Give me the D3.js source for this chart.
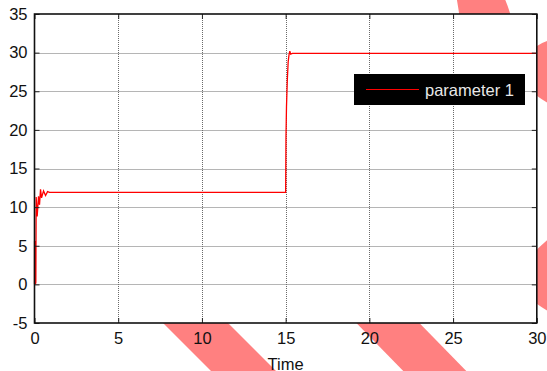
<!DOCTYPE html>
<html>
<head>
<meta charset="utf-8">
<script src="https://cdn.jsdelivr.net/npm/d3@7"></script>
<style>
  html, body { margin: 0; padding: 0; background: #fff; }
  svg { display: block; }
  text { font-family: Arial, "Liberation Sans", sans-serif; }
</style>
</head>
<body>
<svg id="chart" width="547" height="371"></svg>
<script>
// ---- data ----
const timeValues = [0, 0.005, 0.01, 0.015, 0.02, 0.025, 0.03, 0.035, 0.04, 0.045, 0.05, 0.055, 0.06, 0.065, 0.07, 0.075, 0.08,
                    0.1, 0.16, 0.24, 0.3, 0.36, 0.42, 0.54, 0.66, 0.78, 0.9,
                    15.0, 15.02, 15.05, 15.1, 15.15, 15.2, 15.25, 15.3, 15.4, 30];
const parameter1 = [0, 5.6, 0.1, 5.3, 0, 5.5, 0.2, 5.4, 0, 5.6, 0.3, 5.2, 0, 5.5, 0.1, 5.3, 0.2,
                    11.3, 8.8, 11.4, 10.3, 12.3, 11.2, 12.1, 11.5, 12.0, 11.9,
                    11.9, 19, 23, 26.5, 28.8, 29.7, 30.2, 29.8, 29.9, 29.9];
const xTicks = [0, 5, 10, 15, 20, 25, 30];
const yTicks = [-5, 0, 5, 10, 15, 20, 25, 30, 35];
const seriesName = "parameter 1";
const xLabel = "Time";

// ---- layout ----
const W = 547, H = 371;
const plot = { left: 34.5, right: 536.8, top: 14, bottom: 323 };
const svg = d3.select("#chart");

const x = d3.scaleLinear().domain([0, 30]).range([plot.left, plot.right]);
const y = d3.scaleLinear().domain([-5, 35]).range([plot.bottom, plot.top]);

// decorative background stripes (watermark)
const wm = svg.append("g").attr("fill", "#ff8080");
wm.append("polygon").attr("points", "90,250 155,250 288,383 223,383");
wm.append("polygon").attr("points", "285,250 348,250 478,383 415,383");
wm.append("path").attr("d", "M456,-5 L503,-5 Q508,5 512,20 L460,20 Q458,5 456,-5 Z");
wm.append("path").attr("d", "M550,40 Q535,44 528,55 L528,88 Q538,98 550,104 Z");
wm.append("path").attr("d", "M550,238 Q536,248 528,262 L528,296 Q538,306 550,312 Z");

// plot background
svg.append("rect")
  .attr("x", plot.left).attr("y", plot.top)
  .attr("width", plot.right - plot.left).attr("height", plot.bottom - plot.top)
  .attr("fill", "#fff");

// grid
const grid = svg.append("g").attr("stroke", "#6a6a6a").attr("stroke-width", 1).attr("stroke-dasharray", "1,1");
grid.selectAll("line.gx").data(xTicks.slice(1, -1)).join("line")
  .attr("x1", d => Math.round(x(d)) + 0.5).attr("x2", d => Math.round(x(d)) + 0.5)
  .attr("y1", plot.top).attr("y2", plot.bottom);
grid.selectAll("line.gy").data(yTicks.slice(1, -1)).join("line")
  .attr("y1", d => Math.round(y(d)) + 0.5).attr("y2", d => Math.round(y(d)) + 0.5)
  .attr("x1", plot.left).attr("x2", plot.right);

// series line
const line = d3.line().x((d, i) => x(timeValues[i])).y(d => y(d));
svg.append("path")
  .datum(parameter1)
  .attr("d", line)
  .attr("fill", "none")
  .attr("stroke", "#ff0000")
  .attr("stroke-width", 1.3);

// axes with inward ticks
const tickLen = 5;
const fmt = d => String(d);
const axB = svg.append("g").attr("transform", `translate(0,${plot.bottom})`)
  .call(d3.axisBottom(x).tickValues(xTicks).tickFormat(fmt).tickSizeInner(-tickLen).tickSizeOuter(0).tickPadding(9));
const axT = svg.append("g").attr("transform", `translate(0,${plot.top})`)
  .call(d3.axisTop(x).tickValues(xTicks).tickSizeInner(-tickLen).tickSizeOuter(0).tickFormat(""));
const axL = svg.append("g").attr("transform", `translate(${plot.left},0)`)
  .call(d3.axisLeft(y).tickValues(yTicks).tickFormat(fmt).tickSizeInner(-tickLen).tickSizeOuter(0).tickPadding(7));
const axR = svg.append("g").attr("transform", `translate(${plot.right},0)`)
  .call(d3.axisRight(y).tickValues(yTicks).tickSizeInner(-tickLen).tickSizeOuter(0).tickFormat(""));

[axB, axT, axL, axR].forEach(a => {
  a.select(".domain").remove();
  a.selectAll(".tick line").attr("stroke", "#222").attr("stroke-width", 1);
  a.selectAll(".tick text").attr("fill", "#111").style("font-size", "16.5px")
    .style("font-family", "Arial, 'Liberation Sans', sans-serif");
});

// frame
svg.append("rect")
  .attr("x", plot.left).attr("y", plot.top)
  .attr("width", plot.right - plot.left).attr("height", plot.bottom - plot.top)
  .attr("fill", "none").attr("stroke", "#111").attr("stroke-width", 1.6);

// x label
svg.append("text")
  .attr("x", x(15)).attr("y", 369.5)
  .attr("text-anchor", "middle")
  .style("font-size", "16.5px")
  .attr("fill", "#111")
  .text(xLabel);

// legend
const lg = svg.append("g");
lg.append("rect").attr("x", 354).attr("y", 74).attr("width", 171).attr("height", 31).attr("fill", "#000");
lg.append("line").attr("x1", 366).attr("x2", 419).attr("y1", 89.5).attr("y2", 89.5)
  .attr("stroke", "#ff0000").attr("stroke-width", 1);
lg.append("text").attr("x", 425).attr("y", 96)
  .attr("fill", "#e8e8e8").style("font-size", "16.5px").text(seriesName);
</script>
</body>
</html>
